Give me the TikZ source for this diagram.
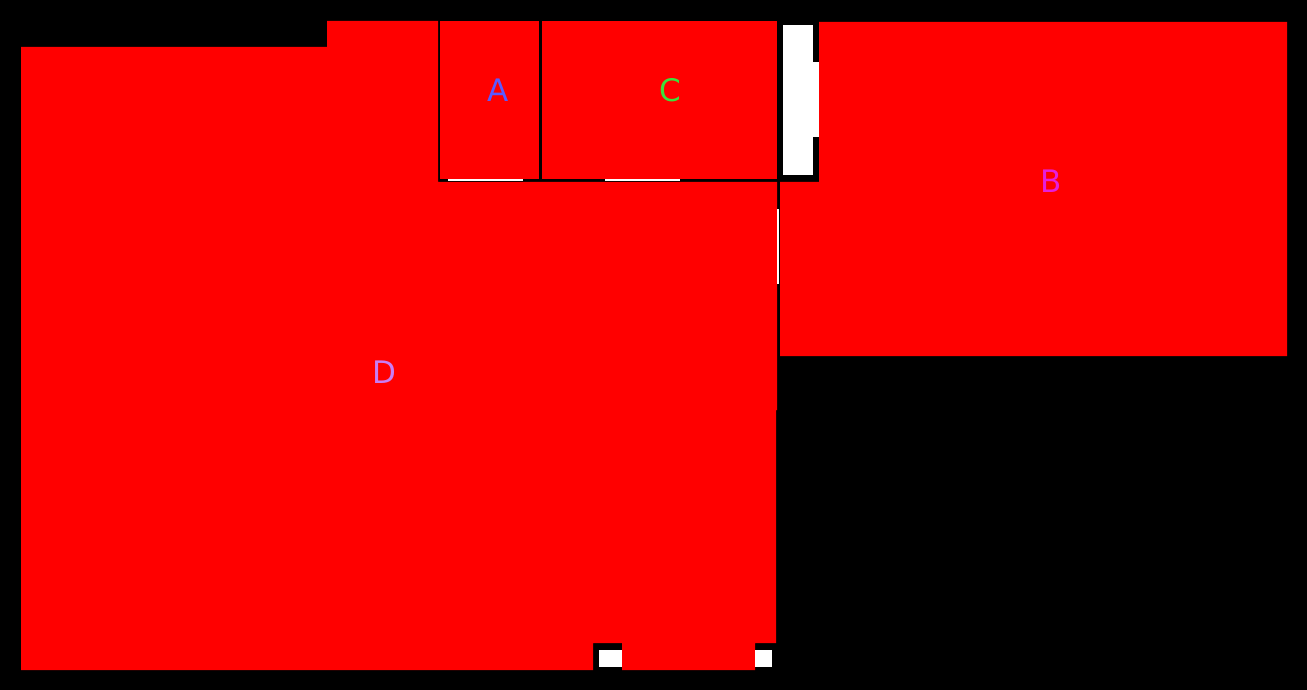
\documentclass[tikz,border=0pt]{standalone}
\usepackage{fontspec}
\setsansfont{DejaVu Sans}
\usetikzlibrary{positioning}
\definecolor{roomfill}{RGB}{255,0,0}
\definecolor{labelA}{RGB}{90,90,255}
\definecolor{labelB}{RGB}{230,30,220}
\definecolor{labelC}{RGB}{60,225,60}
\definecolor{labelD}{RGB}{200,125,245}
\tikzset{
  room/.style={fill=roomfill, draw=none},
  opening/.style={fill=white, draw=none},
  room label/.style={font=\sffamily\fontsize{31}{31}\selectfont, inner sep=0pt}
}
\newcommand{\roomLabel}[4]{%
  \node[room label,text=#4] (room#1) at (#2,#3) {#1};%
}
\begin{document}
\begin{tikzpicture}[x=1pt,y=-1pt]
  \fill[black] (0,0) rectangle (1307,690);
  \useasboundingbox (0,0) rectangle (1307,690);

  % rooms
  \fill[room] (21,47) -- (327,47) -- (327,21) -- (438,21) -- (438,182)
    -- (777,182) -- (777,410) -- (776,410) -- (776,643) -- (755,643)
    -- (755,670) -- (622,670) -- (622,643) -- (593,643) -- (593,670)
    -- (21,670) -- cycle;
  \fill[room] (440,21) rectangle (539,179);
  \fill[room] (542,21) rectangle (777,179);
  \fill[room] (819,22) -- (1287,22) -- (1287,356) -- (780,356)
    -- (780,182) -- (819,182) -- cycle;

  % doors and openings
  \fill[opening] (448,179) rectangle (523,181);
  \fill[opening] (605,179) rectangle (680,181);
  \fill[opening] (777,209) rectangle (779,284);
  \fill[opening] (783,25) rectangle (813,175);
  \fill[opening] (813,62) rectangle (819,137);
  \fill[opening] (599,650) rectangle (622,667);
  \fill[opening] (755,650) rectangle (772,667);

  \roomLabel{A}{498}{90}{labelA}
  \roomLabel{C}{670}{90}{labelC}
  \roomLabel{B}{1051}{181}{labelB}
  \roomLabel{D}{384}{372}{labelD}
\end{tikzpicture}
\end{document}
